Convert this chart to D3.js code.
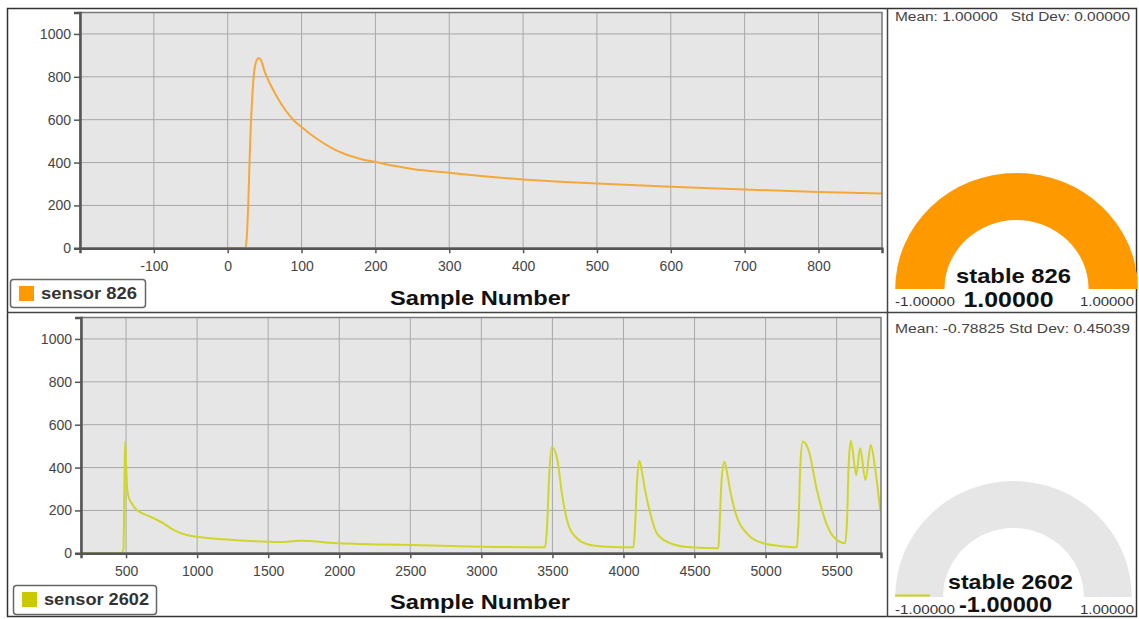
<!DOCTYPE html>
<html>
<head>
<meta charset="utf-8">
<script src="https://cdnjs.cloudflare.com/ajax/libs/d3/7.8.5/d3.min.js"></script>
<style>
  html, body { margin: 0; padding: 0; background: #fff; }
  svg { display: block; font-family: "Liberation Sans", Arial, sans-serif; }
</style>
</head>
<body>
<svg id="chart" width="1139" height="619"></svg>
<script>
// ---------- DATA ----------
const sensorNames = ["sensor 826", "sensor 2602"];
const gaugeNames = ["stable 826", "stable 2602"];
const seriesColors = ["#f5a83a", "#cfd62a"];
const legendColors = ["#ff9900", "#c9c900"];

const s1x = [0, 24, 26, 28, 30, 33, 36, 39, 42, 45, 50, 57, 67, 78, 90, 100, 115, 130, 145, 162, 180, 200, 225, 250, 300, 350, 400, 450, 500, 600, 700, 800, 886];
const s1y = [0, 0, 60, 225, 450, 690, 829, 875, 888, 878, 825, 770, 705, 645, 595, 566, 525, 490, 460, 435, 417, 403, 385, 370, 352, 335, 321, 310, 302, 287, 274, 263, 256];

const s2x = [183, 470, 482, 488, 493, 500, 509, 525, 540, 575, 620, 669, 763, 833, 927, 1000, 1257, 1500, 1584, 1725, 2000, 2500, 3000, 3448, 3462, 3477, 3496, 3535, 3570, 3617, 3687, 3765, 3883, 4070, 4081, 4095, 4112, 4130, 4152, 4188, 4235, 4329, 4469, 4668, 4675, 4690, 4710, 4728, 4750, 4797, 4868, 4985, 5150, 5220, 5231, 5245, 5262, 5302, 5361, 5419, 5478, 5560, 5572, 5585, 5600, 5638, 5665, 5703, 5740, 5770, 5806];
const s2y = [0, 0, 20, 300, 521, 420, 293, 250, 233, 202, 185, 171, 140, 109, 85, 77, 62, 54, 53, 58, 47, 39, 31, 28, 120, 357, 497, 435, 264, 124, 62, 39, 31, 28, 120, 330, 432, 380, 295, 187, 93, 47, 28, 23, 110, 340, 427, 380, 295, 171, 93, 47, 31, 28, 130, 420, 521, 482, 295, 155, 77, 47, 140, 420, 525, 365, 490, 342, 505, 400, 202];

const xTicksTop = [-100, 0, 100, 200, 300, 400, 500, 600, 700, 800];
const xTicksBottom = [500, 1000, 1500, 2000, 2500, 3000, 3500, 4000, 4500, 5000, 5500];
const yTicks = [0, 200, 400, 600, 800, 1000];
const xDomainTop = [-200, 886];
const xDomainBottom = [183, 5812];
const yDomain = [0, 1100];

const gaugeMin = [-1, -1];
const gaugeMax = [1, 1];
const gaugeValues = [1, -1];
const gaugeMeans = ["Mean: 1.00000   Std Dev: 0.00000", "Mean: -0.78825 Std Dev: 0.45039"];
const gaugeFill = ["#ff9900", "#c9d21e"];

// ---------- DRAW ----------
const svg = d3.select("#chart");
const fmtInt = v => d3.format("d")(v).replace("\u2212", "-");
const fmt5 = v => d3.format(".5f")(v).replace("\u2212", "-");

const panels = [
  {x: s1x, y: s1y, xDomain: xDomainTop, xTicks: xTicksTop, left: 80, right: 882, top: 12.5, bottom: 248.3,
   titleY: 305, legend: {x: 10, y: 279, w: 135, h: 28, tw: 96},
   gauge: {cx: 1016.5, cy: 289, sx: 1.045, offTop: 0, nameW: 115, valW: 90, nameY: 283, valY: 307}},
  {x: s2x, y: s2y, xDomain: xDomainBottom, xTicks: xTicksBottom, left: 81, right: 881, top: 317.5, bottom: 553.3,
   titleY: 609, legend: {x: 13, y: 585, w: 143, h: 29, tw: 105},
   gauge: {cx: 1013.5, cy: 597, sx: 1.02, offTop: 312, nameW: 125, valW: 93, nameY: 589, valY: 612}}
];

// Outer frame
svg.append("rect").attr("x", 7.5).attr("y", 8.5).attr("width", 1129).attr("height", 608)
  .attr("fill", "none").attr("stroke", "#333").attr("stroke-width", 1.5);
svg.append("line").attr("x1", 7).attr("x2", 1137).attr("y1", 312.5).attr("y2", 312.5)
  .attr("stroke", "#444").attr("stroke-width", 1.5);
svg.append("line").attr("x1", 887.5).attr("x2", 887.5).attr("y1", 8).attr("y2", 617)
  .attr("stroke", "#444").attr("stroke-width", 1.5);

panels.forEach((p, i) => {
  const xs = d3.scaleLinear().domain(p.xDomain).range([p.left, p.right]);
  const ys = d3.scaleLinear().domain(yDomain).range([p.bottom, p.top]);
  const g = svg.append("g");

  g.append("rect").attr("x", p.left).attr("y", p.top)
    .attr("width", p.right - p.left).attr("height", p.bottom - p.top)
    .attr("fill", "#e6e6e6");

  g.append("g").selectAll("line").data(p.xTicks).join("line")
    .attr("x1", d => xs(d)).attr("x2", d => xs(d))
    .attr("y1", p.top).attr("y2", p.bottom)
    .attr("stroke", "#a8a8a8").attr("stroke-width", 1);
  g.append("g").selectAll("line").data(yTicks).join("line")
    .attr("x1", p.left).attr("x2", p.right)
    .attr("y1", d => ys(d)).attr("y2", d => ys(d))
    .attr("stroke", "#a8a8a8").attr("stroke-width", 1);

  const clipId = "clip" + i;
  svg.append("clipPath").attr("id", clipId).append("rect")
    .attr("x", p.left).attr("y", p.top).attr("width", p.right - p.left).attr("height", p.bottom - p.top);
  const pts = p.x.map((v, k) => [v, p.y[k]]);
  g.append("path").datum(pts)
    .attr("clip-path", `url(#${clipId})`)
    .attr("fill", "none").attr("stroke", seriesColors[i]).attr("stroke-width", 2)
    .attr("stroke-linejoin", "round")
    .attr("d", d3.line().x(d => xs(d[0])).y(d => ys(d[1])).curve(d3.curveMonotoneX));

  g.append("rect").attr("x", p.left).attr("y", p.top)
    .attr("width", p.right - p.left).attr("height", p.bottom - p.top)
    .attr("fill", "none").attr("stroke", "#777").attr("stroke-width", 1.5);

  const yAxis = d3.axisLeft(ys).tickValues(yTicks).tickFormat(fmtInt).tickSize(6).tickPadding(3);
  const ya = g.append("g").attr("transform", `translate(${p.left},0)`).call(yAxis);
  const xAxis = d3.axisBottom(xs).tickValues(p.xTicks).tickFormat(fmtInt).tickSize(5).tickPadding(8);
  const xa = g.append("g").attr("transform", `translate(0,${p.bottom})`).call(xAxis);
  [ya, xa].forEach(a => {
    a.select(".domain").attr("stroke", "#555").attr("stroke-width", 2.5);
    a.selectAll(".tick line").attr("stroke", "#555").attr("stroke-width", 1.5);
    a.selectAll(".tick text").attr("fill", "#444").attr("font-size", 14)
      .attr("font-family", "Liberation Sans, Arial, sans-serif");
  });

  g.append("text").attr("x", 480).attr("y", p.titleY).attr("text-anchor", "middle")
    .attr("font-size", 21).attr("font-weight", "bold").attr("fill", "#111")
    .attr("textLength", 180).attr("lengthAdjust", "spacingAndGlyphs").text("Sample Number");

  const L = p.legend;
  g.append("rect").attr("x", L.x + 0.5).attr("y", L.y + 0.5).attr("width", L.w).attr("height", L.h)
    .attr("rx", 3).attr("fill", "#fff").attr("stroke", "#666").attr("stroke-width", 1.5);
  g.append("rect").attr("x", L.x + 9).attr("y", L.y + 7).attr("width", 15).attr("height", 15)
    .attr("fill", legendColors[i]);
  g.append("text").attr("x", L.x + 31).attr("y", L.y + 20)
    .attr("font-size", 16).attr("font-weight", "bold").attr("fill", "#333")
    .attr("textLength", L.tw).attr("lengthAdjust", "spacingAndGlyphs").text(sensorNames[i]);

  // gauge panel
  const G = p.gauge;
  g.append("text").attr("x", 895).attr("y", G.offTop + 21)
    .attr("font-size", 12.5).attr("fill", "#444")
    .attr("textLength", 235).attr("lengthAdjust", "spacingAndGlyphs")
    .style("white-space", "pre").text(gaugeMeans[i]);

  const ang = d3.scaleLinear().domain([gaugeMin[i], gaugeMax[i]]).range([-Math.PI / 2, Math.PI / 2]);
  const rO = 116, rI = 69;
  const arc = d3.arc().innerRadius(rI).outerRadius(rO);
  const gg = g.append("g").attr("transform", `translate(${G.cx},${G.cy}) scale(${G.sx},1)`);
  gg.append("path").attr("d", arc({startAngle: -Math.PI / 2, endAngle: Math.PI / 2})).attr("fill", "#e6e6e6");
  const endA = ang(gaugeValues[i]);
  if (endA > -Math.PI / 2 + 1e-6) {
    gg.append("path").attr("d", arc({startAngle: -Math.PI / 2, endAngle: endA})).attr("fill", gaugeFill[i]);
  } else {
    gg.append("line").attr("x1", -rO).attr("x2", -rO + 34).attr("y1", -1.5).attr("y2", -1.5)
      .attr("stroke", gaugeFill[i]).attr("stroke-width", 2);
  }
  g.append("text").attr("x", G.cx - 3).attr("y", G.nameY).attr("text-anchor", "middle")
    .attr("font-size", 21).attr("font-weight", "bold").attr("fill", "#111")
    .attr("textLength", G.nameW).attr("lengthAdjust", "spacingAndGlyphs").text(gaugeNames[i]);
  g.append("text").attr("x", G.cx - 8).attr("y", G.valY).attr("text-anchor", "middle")
    .attr("font-size", 22).attr("font-weight", "bold").attr("fill", "#111")
    .attr("textLength", G.valW).attr("lengthAdjust", "spacingAndGlyphs")
    .text(fmt5(gaugeValues[i]));
  g.append("text").attr("x", 895).attr("y", G.cy + 17)
    .attr("font-size", 12).attr("fill", "#333")
    .attr("textLength", 60).attr("lengthAdjust", "spacingAndGlyphs").text(fmt5(gaugeMin[i]));
  g.append("text").attr("x", 1134).attr("y", G.cy + 17).attr("text-anchor", "end")
    .attr("font-size", 12).attr("fill", "#333")
    .attr("textLength", 54).attr("lengthAdjust", "spacingAndGlyphs").text(fmt5(gaugeMax[i]));
});
</script>
</body>
</html>
